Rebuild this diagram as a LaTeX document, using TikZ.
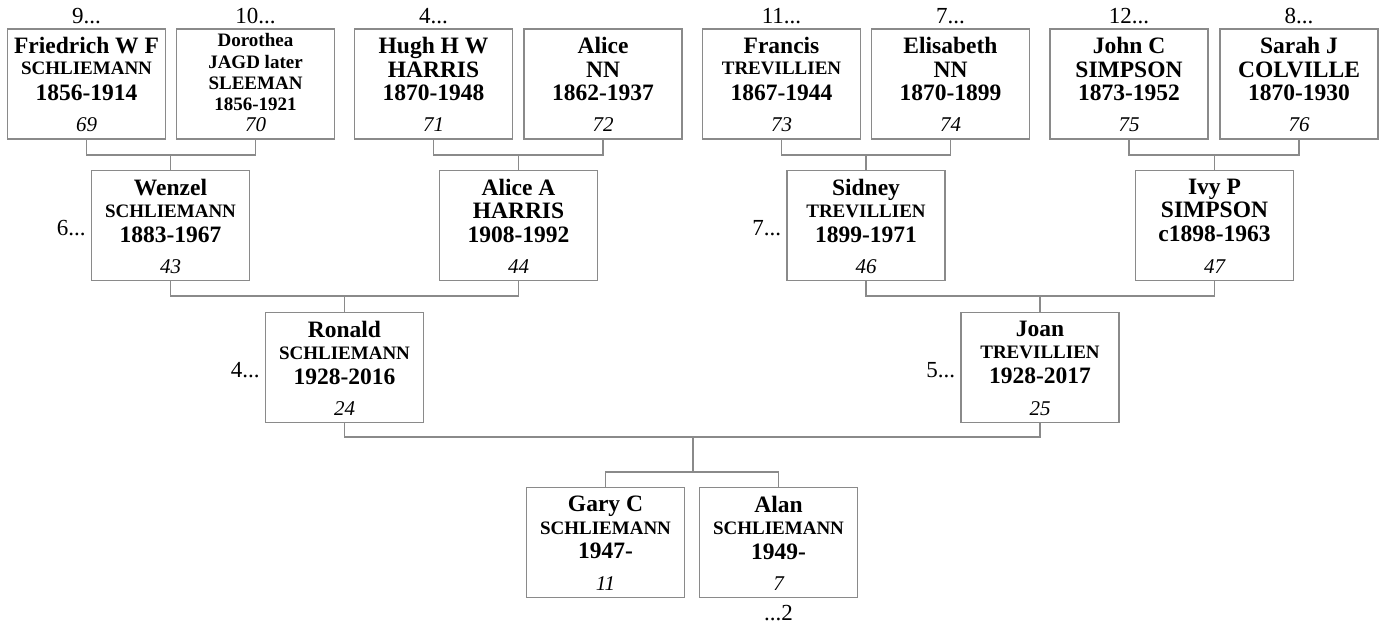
\documentclass[tikz,border=0pt]{standalone}
\usepackage{fontspec}
\setmainfont{Liberation Serif}
\definecolor{lgray}{HTML}{8A8A8A}
\tikzset{
  pbox/.style={draw=lgray, line width=1.3pt, minimum width=158pt, minimum height=110pt, inner sep=0pt},
  ptext/.style={align=center, inner sep=0pt, anchor=north, font=\fontsize{23.5}{23.5}\selectfont\bfseries},
  ptextsmall/.style={align=center, inner sep=0pt, anchor=north, font=\fontsize{19}{21.3}\selectfont\bfseries},
  pnum/.style={inner sep=0pt, anchor=base, font=\fontsize{21}{21}\selectfont\itshape},
  gen/.style={inner sep=0pt, font=\fontsize{23}{23}\selectfont},
  conn/.style={draw=lgray, line width=1.3pt},
}
\newcommand{\sm}[1]{{\fontsize{19}{19}\selectfont #1}}
\begin{document}
\begin{tikzpicture}[x=1pt,y=-1pt]
\useasboundingbox (0,0) rectangle (1382,626);
% top row
\node[pbox] (a69) at (86.5,84) {};
\node[pbox] (a70) at (255.5,84) {};
\node[pbox] (a71) at (433.5,84) {};
\node[pbox] (a72) at (603,84) {};
\node[pbox] (a73) at (781.5,84) {};
\node[pbox] (a74) at (950.5,84) {};
\node[pbox] (a75) at (1129,84) {};
\node[pbox] (a76) at (1299,84) {};
% middle row
\node[pbox] (b43) at (170.5,225.5) {};
\node[pbox] (b44) at (518.5,225.5) {};
\node[pbox] (b46) at (866,225.5) {};
\node[pbox] (b47) at (1214.5,225.5) {};
% third row
\node[pbox] (c24) at (344.5,367.5) {};
\node[pbox] (c25) at (1040,367.5) {};
% bottom row
\node[pbox] (d11) at (605.5,542.5) {};
\node[pbox] (d7) at (778.5,542.5) {};

% texts
\node[ptext] (t69) at ([yshift=-9pt]a69.north) {Friedrich W F\\[-3pt]\sm{SCHLIEMANN}\\[3pt]1856-1914};
\node[ptextsmall] (t70) at ([yshift=-5pt]a70.north) {Dorothea\\JAGD later\\SLEEMAN\\1856-1921};
\node[ptext] (t71) at ([yshift=-9pt]a71.north) {Hugh H W\\HARRIS\\1870-1948};
\node[ptext] (t72) at ([yshift=-9pt]a72.north) {Alice\\NN\\1862-1937};
\node[ptext] (t73) at ([yshift=-9pt]a73.north) {Francis\\[-3pt]\sm{TREVILLIEN}\\[3pt]1867-1944};
\node[ptext] (t74) at ([yshift=-9pt]a74.north) {Elisabeth\\NN\\1870-1899};
\node[ptext] (t75) at ([yshift=-9pt]a75.north) {John C\\SIMPSON\\1873-1952};
\node[ptext] (t76) at ([yshift=-9pt]a76.north) {Sarah J\\COLVILLE\\1870-1930};
\node[ptext] (t43) at ([yshift=-9pt]b43.north) {Wenzel\\[-1pt]\sm{SCHLIEMANN}\\[1pt]1883-1967};
\node[ptext] (t44) at ([yshift=-9pt]b44.north) {Alice A\\HARRIS\\1908-1992};
\node[ptext] (t46) at ([yshift=-9pt]b46.north) {Sidney\\[-1pt]\sm{TREVILLIEN}\\[1pt]1899-1971};
\node[ptext] (t47) at ([yshift=-9pt]b47.north) {Ivy P\\SIMPSON\\c1898-1963};
\node[ptext] (t24) at ([yshift=-9pt]c24.north) {Ronald\\[-1pt]\sm{SCHLIEMANN}\\[1pt]1928-2016};
\node[ptext] (t25) at ([yshift=-9pt]c25.north) {Joan\\[-1pt]\sm{TREVILLIEN}\\[1pt]1928-2017};
\node[ptext] (t11) at ([yshift=-9pt]d11.north) {Gary C\\[-1pt]\sm{SCHLIEMANN}\\[1pt]1947-};
\node[ptext] (t7) at ([yshift=-9pt]d7.north) {Alan\\[-1pt]\sm{SCHLIEMANN}\\[1pt]1949-};

% numbers
\foreach \n/\v in {a69/69,a70/70,a71/71,a72/72,a73/73,a74/74,a75/75,a76/76,b43/43,b44/44,b46/46,b47/47,c24/24,c25/25,d11/11,d7/7}
  \node[pnum] (n\v) at ([yshift=8pt]\n.south) {\v};

% generation refs
\node[gen, anchor=base] (g69) at ([yshift=5pt]a69.north) {9...};
\node[gen, anchor=base] (g70) at ([yshift=5pt]a70.north) {10...};
\node[gen, anchor=base] (g71) at ([yshift=5pt]a71.north) {4...};
\node[gen, anchor=base] (g73) at ([yshift=5pt]a73.north) {11...};
\node[gen, anchor=base] (g74) at ([yshift=5pt]a74.north) {7...};
\node[gen, anchor=base] (g75) at ([yshift=5pt]a75.north) {12...};
\node[gen, anchor=base] (g76) at ([yshift=5pt]a76.north) {8...};
\node[gen, anchor=base east] (g43) at ([xshift=-5pt,yshift=-9.5pt]b43.west) {6...};
\node[gen, anchor=base east] (g46) at ([xshift=-5pt,yshift=-9.5pt]b46.west) {7...};
\node[gen, anchor=base east] (g24) at ([xshift=-5pt,yshift=-9.5pt]c24.west) {4...};
\node[gen, anchor=base east] (g25) at ([xshift=-5pt,yshift=-9.5pt]c25.west) {5...};
\node[gen, anchor=base] (g7) at ([yshift=-22pt]d7.south) {...2};

% connectors
\coordinate (j43) at (b43.north |- 0,155);
\coordinate (j44) at (b44.north |- 0,155);
\coordinate (j46) at (b46.north |- 0,155);
\coordinate (j47) at (b47.north |- 0,155);
\coordinate (j24) at (c24.north |- 0,296);
\coordinate (j25) at (c25.north |- 0,296);
\coordinate (jroot) at (693,437);
\coordinate (jkids) at (693,472);
\draw[conn] (a69.south) |- (j43) -| (a70.south);
\draw[conn] (j43) -- (b43.north);
\draw[conn] (a71.south) |- (j44) -| (a72.south);
\draw[conn] (j44) -- (b44.north);
\draw[conn] (a73.south) |- (j46) -| (a74.south);
\draw[conn] (j46) -- (b46.north);
\draw[conn] (a75.south) |- (j47) -| (a76.south);
\draw[conn] (j47) -- (b47.north);
\draw[conn] (b43.south) |- (j24) -| (b44.south);
\draw[conn] (j24) -- (c24.north);
\draw[conn] (b46.south) |- (j25) -| (b47.south);
\draw[conn] (j25) -- (c25.north);
\draw[conn] (c24.south) |- (jroot) -| (c25.south);
\draw[conn] (jroot) -- (jkids);
\draw[conn] (d11.north) |- (jkids) -| (d7.north);
\end{tikzpicture}
\end{document}
